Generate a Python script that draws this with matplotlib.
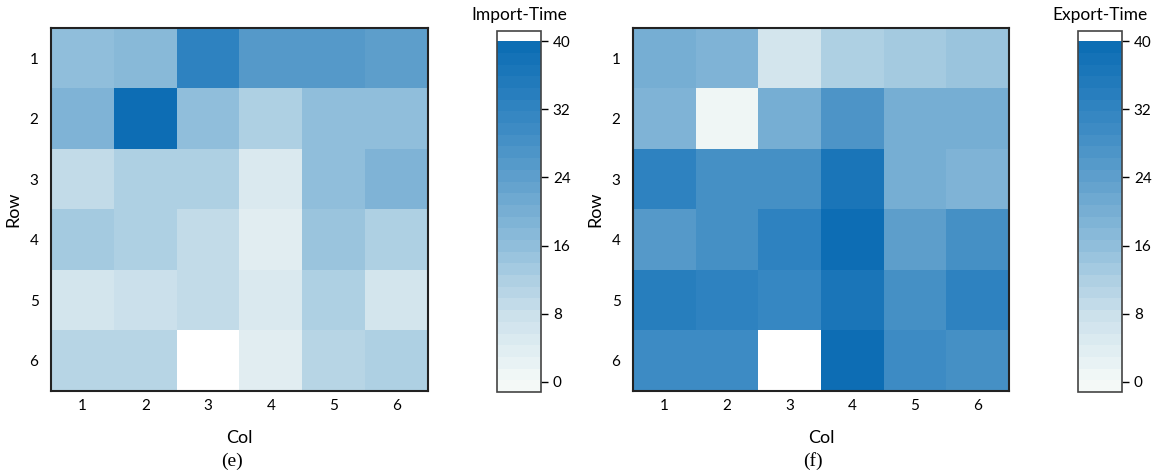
import matplotlib
matplotlib.use("Agg")
import matplotlib.pyplot as plt
import numpy as np
from matplotlib.colors import LinearSegmentedColormap, ListedColormap, BoundaryNorm

# Grid labels
ROWS = ["1", "2", "3", "4", "5", "6"]
COLS = ["1", "2", "3", "4", "5", "6"]

# Import-Time values (row 1 at top), NaN = missing cell
import_time = np.array([
    [16.5, 17.5, 33.0, 26.0, 25.0, 24.0],
    [19.0, 39.5, 16.5, 12.5, 16.5, 16.5],
    [9.0, 12.5, 12.5, 5.5, 16.5, 19.0],
    [13.5, 11.5, 9.0, 3.0, 15.0, 11.5],
    [7.0, 8.0, 9.0, 5.5, 11.5, 7.0],
    [10.5, 10.5, np.nan, 3.0, 10.5, 12.5],
])

# Export-Time values
export_time = np.array([
    [20.5, 19.0, 7.0, 12.5, 13.5, 15.0],
    [19.0, 1.0, 20.5, 27.0, 20.5, 20.5],
    [33.0, 28.5, 28.5, 36.0, 20.5, 19.0],
    [25.0, 28.5, 32.0, 39.0, 24.0, 28.5],
    [33.5, 32.0, 30.5, 36.0, 28.5, 32.0],
    [29.5, 29.5, np.nan, 39.0, 30.0, 28.5],
])

CB_TICKS = [0, 8, 16, 24, 32, 40]

# Discrete blue palette with a white cap above 40
base = LinearSegmentedColormap.from_list(
    "blu",
    [(0.0, "#f4f9f7"), (0.2, "#cae0eb"), (0.4, "#90bedb"),
     (0.6, "#5e9fcc"), (0.8, "#3184c1"), (1.0, "#0a6cb3")],
)
bounds = list(np.linspace(-1.2, 40, 31)) + [41.2]
centers = [(bounds[i] + bounds[i + 1]) / 2 for i in range(30)]
colors = [base(np.clip(c / 40, 0, 1)) for c in centers] + ["white"]
cmap = ListedColormap(colors)
cmap.set_bad("white")
norm = BoundaryNorm(bounds, cmap.N)

TXT = ["Lato", "DejaVu Sans"]
plt.rcParams["font.family"] = TXT

fig = plt.figure(figsize=(11.56, 4.74), dpi=100)
W, H = 1156, 474


def px(x0, y0, x1, y1):
    return [x0 / W, 1 - y1 / H, (x1 - x0) / W, (y1 - y0) / H]


panels = [
    (import_time, "Import-Time", "(e)", (51, 28, 428, 391), (497, 31, 541, 392), 232),
    (export_time, "Export-Time", "(f)", (633, 28, 1009, 391), (1078, 31, 1122, 392), 813),
]

for data, cb_title, tag, ax_box, cb_box, tag_x in panels:
    ax = fig.add_axes(px(*ax_box))
    im = ax.imshow(data, cmap=cmap, norm=norm, aspect="auto", interpolation="nearest")
    ax.set_xticks(range(len(COLS)))
    ax.set_xticklabels(COLS, fontsize=11)
    ax.set_yticks(range(len(ROWS)))
    ax.set_yticklabels(ROWS, fontsize=11)
    ax.tick_params(axis="x", length=0, pad=6)
    ax.tick_params(axis="y", length=0, pad=9)
    ax.set_xlabel("Col", fontsize=13, labelpad=12)
    ax.set_ylabel("Row", fontsize=13, labelpad=6)
    for s in ax.spines.values():
        s.set_linewidth(1.5)
        s.set_color("#222222")

    cax = fig.add_axes(px(*cb_box))
    cb = fig.colorbar(im, cax=cax, ticks=CB_TICKS, spacing="proportional")
    cb.minorticks_off()
    cb.outline.set_edgecolor("#444444")
    cb.outline.set_linewidth(1.2)
    cax.tick_params(labelsize=11, length=5, width=1, direction="out")
    cax.set_title(cb_title, fontsize=12.5, pad=8)

    fig.text(tag_x / W, 1 - 461 / H, tag, ha="center", va="center",
             fontsize=14, family="Liberation Serif")

fig.savefig("out.png", dpi=100)
